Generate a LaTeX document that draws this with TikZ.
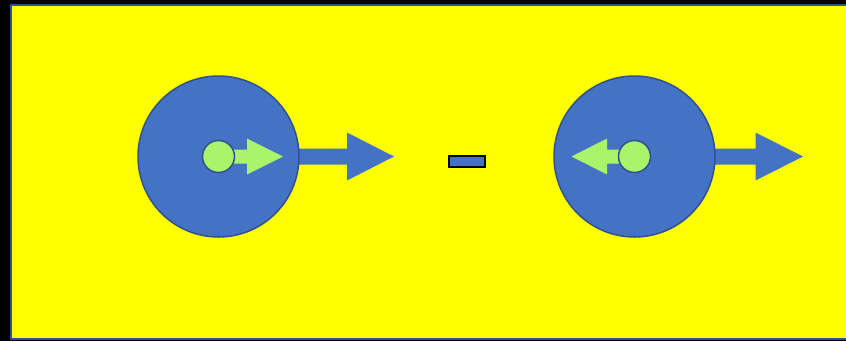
\documentclass[tikz,border=0pt]{standalone}
\usepackage{xcolor}
\usepackage{tikz}
\usetikzlibrary{shapes, arrows, positioning}

\definecolor{bgyellow}{HTML}{FFFF00}
\definecolor{discblue}{HTML}{4472C4}
\definecolor{edgeblue}{HTML}{2F528F}
\definecolor{dotgreen}{HTML}{A9F46B}

\tikzset{
  pics/blockarrow/.style n args={5}{code={
    \fill[#5] (0,-#2) -- (#1,-#2) -- (#1,-#4) -- (#1+#3,0) -- (#1,#4) -- (#1,#2) -- (0,#2) -- cycle;
  }}
}

\begin{document}
\begin{tikzpicture}[
  x=1pt, y=-1pt,
  disc/.style={circle, draw=edgeblue, line width=1.5pt, fill=discblue, minimum size=161pt, inner sep=0pt},
  dot/.style={circle, draw=edgeblue, line width=1.5pt, fill=dotgreen, minimum size=32pt, inner sep=0pt},
  minusbar/.style={rectangle, draw=black, line width=2pt, fill=discblue, minimum width=36pt, minimum height=11pt, inner sep=0pt}
]

\useasboundingbox (0,0) rectangle (846,341);
\clip (0,0) rectangle (846,341);
\fill[black] (0,0) rectangle (846,341);
\draw[edgeblue, line width=2pt, fill=bgyellow] (11,5) rectangle (860,339);

\coordinate (lc) at (218.5,156.5);
\coordinate (rc) at (634.5,156.5);

% outgoing arrows sit under the discs
\pic at ([xshift=72pt]lc) {blockarrow={56.5}{8}{47}{24}{discblue}};
\pic at ([xshift=72pt]rc) {blockarrow={49}{8}{47.5}{24}{discblue}};

\node[disc] (ldisc) at (lc) {};
\node[disc] (rdisc) at (rc) {};

% inner arrows
\pic at (lc) {blockarrow={28.5}{7}{36}{18}{dotgreen}};
\pic[rotate=180] at (rc) {blockarrow={27.5}{7}{35.5}{18}{dotgreen}};

\node[dot] (ldot) at (lc) {};
\node[dot] (rdot) at (rc) {};

\node[minusbar] (minus) at (467,161.5) {};

\end{tikzpicture}
\end{document}
